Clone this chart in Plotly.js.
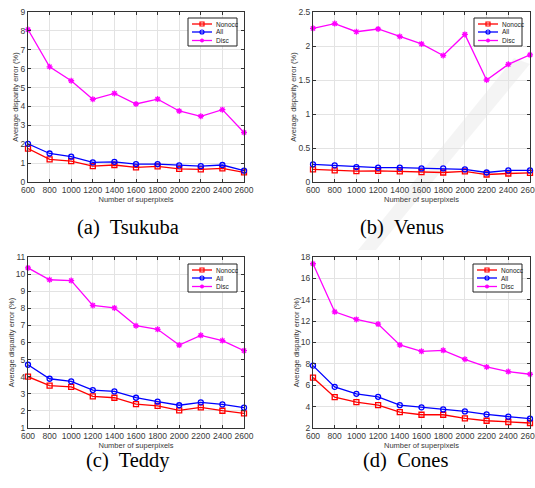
<!DOCTYPE html>
<html>
<head>
<meta charset="utf-8">
<script src="https://cdn.plot.ly/plotly-3.0.1.min.js"></script>
<style>html,body{margin:0;padding:0;background:#fff;}#chart{width:535px;height:488px;}</style>
</head>
<body>
<div id="chart"></div>
<script>
// ---- data ----
const superpixels = [600, 800, 1000, 1200, 1400, 1600, 1800, 2000, 2200, 2400, 2600];
const seriesNames = ["Nonocc", "All", "Disc"];
const panelCaptions = ["(a)\u00a0 Tsukuba", "(b)\u00a0 Venus", "(c)\u00a0 Teddy", "(d)\u00a0 Cones"];

const tsukubaNonocc = [1.77, 1.20, 1.11, 0.84, 0.90, 0.77, 0.83, 0.70, 0.67, 0.72, 0.51];
const tsukubaAll    = [2.02, 1.51, 1.34, 1.04, 1.07, 0.95, 0.95, 0.88, 0.84, 0.90, 0.60];
const tsukubaDisc   = [8.07, 6.10, 5.36, 4.38, 4.69, 4.13, 4.39, 3.76, 3.48, 3.83, 2.62];

const venusNonocc = [0.185, 0.17, 0.16, 0.165, 0.155, 0.145, 0.14, 0.155, 0.11, 0.125, 0.135];
const venusAll    = [0.26, 0.245, 0.22, 0.21, 0.21, 0.20, 0.20, 0.185, 0.14, 0.17, 0.17];
const venusDisc   = [2.26, 2.33, 2.21, 2.25, 2.14, 2.03, 1.86, 2.17, 1.50, 1.73, 1.87];

const teddyNonocc = [4.00, 3.48, 3.40, 2.85, 2.77, 2.40, 2.29, 2.03, 2.21, 2.01, 1.86];
const teddyAll    = [4.70, 3.88, 3.73, 3.22, 3.14, 2.77, 2.54, 2.33, 2.50, 2.38, 2.19];
const teddyDisc   = [10.36, 9.67, 9.62, 8.17, 8.02, 6.98, 6.77, 5.85, 6.42, 6.11, 5.52];

const conesNonocc = [6.72, 4.89, 4.42, 4.14, 3.49, 3.24, 3.24, 2.90, 2.68, 2.56, 2.47];
const conesAll    = [7.84, 5.85, 5.20, 4.92, 4.14, 3.93, 3.74, 3.55, 3.27, 3.06, 2.87];
const conesDisc   = [17.37, 12.87, 12.16, 11.72, 9.77, 9.17, 9.27, 8.43, 7.71, 7.28, 7.03];

const panels = [
  {series: [tsukubaNonocc, tsukubaAll, tsukubaDisc], range: [0, 9], dtick: 1},
  {series: [venusNonocc, venusAll, venusDisc], range: [0, 2.5], dtick: 0.5},
  {series: [teddyNonocc, teddyAll, teddyDisc], range: [1, 11], dtick: 1},
  {series: [conesNonocc, conesAll, conesDisc], range: [2, 18], dtick: 2}
];

// ---- styling ----
const W = 535, H = 488;
const colors = ["#ff0000", "#0000ff", "#ff00ff"];
const symbols = ["square-open", "circle-open", "asterisk-open"];
// plot boxes in pixels [left, top, right, bottom]
const boxes = [[28, 12, 244, 182], [313, 12, 530, 182], [28, 257, 244, 428], [313, 257, 530, 428]];
const legendBoxes = [[188, 18, 237, 46], [474, 18, 522, 46], [188, 264, 237, 292], [473, 264, 522, 292]];
const captionPos = [[128, 228], [402, 228], [128, 460], [405, 460]];

const px = v => v / W;
const py = v => 1 - v / H;

const data = [];
const layout = {
  width: W, height: H,
  margin: {l: 0, r: 0, t: 0, b: 0},
  paper_bgcolor: "#ffffff",
  plot_bgcolor: "rgba(0,0,0,0)",
  showlegend: false,
  font: {family: "Liberation Sans, Arial, sans-serif", color: "#333"},
  shapes: [],
  annotations: []
};

// faint diagonal watermark stripe (background decoration of the reference)
layout.shapes.push({type: "path", xref: "paper", yref: "paper", layer: "below",
  path: `M${px(358)},${py(250)} L${px(376)},${py(250)} L${px(530)},${py(64)} L${px(514)},${py(58)} Z`,
  fillcolor: "rgba(0,0,0,0.045)", line: {width: 0}});

panels.forEach((p, i) => {
  const n = i === 0 ? "" : String(i + 1);
  const b = boxes[i];
  p.series.forEach((vals, s) => {
    data.push({
      x: superpixels, y: vals,
      xaxis: "x" + n, yaxis: "y" + n,
      type: "scatter", mode: "lines+markers",
      name: seriesNames[s],
      line: {color: colors[s], width: 1.3},
      marker: {symbol: symbols[s], size: 5, color: colors[s], line: {color: colors[s], width: 1.3}},
      cliponaxis: false
    });
  });
  const axCommon = {
    showline: true, mirror: "ticks", linecolor: "#333", linewidth: 1,
    ticks: "inside", ticklen: 3, tickcolor: "#333", tickwidth: 1,
    showgrid: true, gridcolor: "#e3e3e3", gridwidth: 1,
    zeroline: false,
    ticklabeloverflow: "allow",
    tickfont: {size: 8.5, color: "#3a3a3a", family: "Liberation Sans, Arial, sans-serif"}
  };
  layout["xaxis" + n] = Object.assign({}, axCommon, {
    domain: [px(b[0]), px(b[2])],
    anchor: "y" + n,
    range: [600, 2600], dtick: 200, tick0: 600,
    title: {text: "Number of superpixels", font: {size: 7.5, color: "#3a3a3a"}, standoff: 2}
  });
  layout["yaxis" + n] = Object.assign({}, axCommon, {
    domain: [py(b[3]), py(b[1])],
    anchor: "x" + n,
    range: p.range, dtick: p.dtick,
    title: {text: "Average disparity error (%)", font: {size: 7.5, color: "#3a3a3a"}, standoff: 0}
  });

  // legend (drawn with shapes + annotations)
  const lb = legendBoxes[i];
  layout.shapes.push({type: "rect", xref: "paper", yref: "paper",
    x0: px(lb[0]), x1: px(lb[2]), y0: py(lb[3]), y1: py(lb[1]),
    line: {color: "#222", width: 1}, fillcolor: "#ffffff", layer: "above"});
  const rowOff = [6, 14, 22.5];
  seriesNames.forEach((name, s) => {
    const yy = lb[1] + rowOff[s];
    const x0 = lb[0] + 4, x1 = lb[0] + 24, xc = (x0 + x1) / 2;
    layout.shapes.push({type: "line", xref: "paper", yref: "paper",
      x0: px(x0), x1: px(x1), y0: py(yy), y1: py(yy),
      line: {color: colors[s], width: 1.3}, layer: "above"});
    const r = 2;
    if (s === 0) {
      layout.shapes.push({type: "rect", xref: "paper", yref: "paper",
        x0: px(xc - r), x1: px(xc + r), y0: py(yy + r), y1: py(yy - r),
        line: {color: colors[s], width: 1.2}, fillcolor: "rgba(0,0,0,0)", layer: "above"});
    } else if (s === 1) {
      layout.shapes.push({type: "circle", xref: "paper", yref: "paper",
        x0: px(xc - r), x1: px(xc + r), y0: py(yy + r), y1: py(yy - r),
        line: {color: colors[s], width: 1.2}, fillcolor: "rgba(0,0,0,0)", layer: "above"});
    } else {
      const path = `M${px(xc - r)},${py(yy)} L${px(xc + r)},${py(yy)} ` +
        `M${px(xc)},${py(yy - r)} L${px(xc)},${py(yy + r)} ` +
        `M${px(xc - r * 0.7)},${py(yy - r * 0.7)} L${px(xc + r * 0.7)},${py(yy + r * 0.7)} ` +
        `M${px(xc - r * 0.7)},${py(yy + r * 0.7)} L${px(xc + r * 0.7)},${py(yy - r * 0.7)}`;
      layout.shapes.push({type: "path", xref: "paper", yref: "paper", path: path,
        line: {color: colors[s], width: 1.3}, layer: "above"});
    }
    layout.annotations.push({xref: "paper", yref: "paper", x: px(x1 + 2), y: py(yy),
      xanchor: "left", yanchor: "middle", showarrow: false, text: name,
      font: {size: 6.5, color: "#222", family: "Liberation Sans, Arial, sans-serif"}});
  });

  // caption
  const cp = captionPos[i];
  layout.annotations.push({xref: "paper", yref: "paper", x: px(cp[0]), y: py(cp[1]),
    xanchor: "center", yanchor: "middle", showarrow: false, text: panelCaptions[i],
    borderpad: 0,
    font: {size: 20.5, color: "#000", family: "Liberation Serif, Times New Roman, serif"}});
});

Plotly.newPlot("chart", data, layout, {staticPlot: true, displayModeBar: false});
</script>
</body>
</html>
